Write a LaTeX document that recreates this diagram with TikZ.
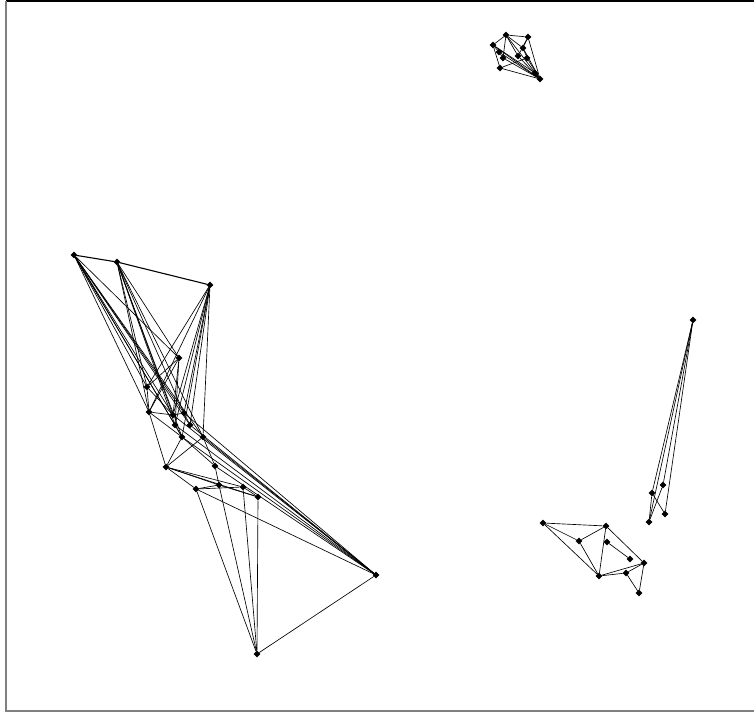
\documentclass[tikz,border=0pt]{standalone}
\usetikzlibrary{shapes.geometric}
\begin{document}
\begin{tikzpicture}[x=1pt,y=-1pt,
  vtx/.style={diamond,fill=black,inner sep=0pt,minimum size=7pt},
  edge/.style={line width=0.65pt,black}]
\useasboundingbox (0,0) rectangle (754,713);
\draw[line width=1.2pt,black] (6,1) -- (754,1);
\draw[line width=1.6pt,gray] (6,1) -- (6,711) -- (754,711);
\foreach \n/\x/\y in {l1/74/255,l2/117/262,l3/210/285,l4/179/358,l5/147/387,l6/149/412,
  l7/173/415,l8/184/413,l9/175/425,l10/182/437,l11/203/437,l12/190/425,l13/215/466,
  l14/166/467,l15/196/489,l16/219/485,l17/243/487,l18/258/497,l19/376/575,l20/257/654,
  t1/506/35,t2/528/37,t3/493/45,t4/499/52,t5/503/58,t6/523/48,t7/518/56,t8/527/58,
  t9/500/68,t10/540/79,t11/535/73,
  r1/543/523,r2/606/526,r3/579/541,r4/607/542,r5/630/559,r6/644/563,r7/626/573,r8/599/576,r9/639/593,
  q1/693/320,q2/663/485,q3/652/493,q4/665/514,q5/649/522}
  \node[vtx] (\n) at (\x,\y) {};
\draw[line width=1.1pt] (l1) -- (l2) -- (l3);
\foreach \a/\b in {l1/l4,l1/l5,l1/l6,l1/l7,l1/l8,l1/l9,l1/l10,l1/l11,l1/l12,
  l2/l4,l2/l5,l2/l6,l2/l7,l2/l8,l2/l9,l2/l10,l2/l11,
  l3/l5,l3/l6,l3/l7,l3/l8,l3/l9,l3/l10,l3/l11,l3/l12,
  l4/l5,l4/l6,l4/l7,l4/l9,l5/l6,l5/l7,l6/l7,l6/l14,l6/l10,l7/l8,l8/l12,l9/l10,
  l14/l10,l14/l11,l14/l15,l14/l16,l14/l17,l14/l18,
  l7/l19,l8/l19,l9/l19,l10/l19,l11/l19,l12/l19,l13/l19,l10/l13,l11/l13,l13/l16,
  l15/l16,l15/l17,l16/l18,l17/l18,l15/l19,
  l15/l20,l16/l20,l17/l20,l18/l20,l19/l20,
  t1/t2,t1/t3,t2/t10,t1/t10,t3/t10,t4/t10,t5/t10,t9/t10,t6/t10,t7/t10,t8/t10,
  t1/t7,t2/t7,t1/t5,t9/t8,t3/t9,t6/t8,t1/t6,t2/t6,t3/t11,t3/t4,t4/t5,
  r1/r2,r1/r3,r1/r8,r3/r2,r3/r8,r2/r8,r2/r6,r4/r5,r8/r7,r7/r6,r8/r6,r7/r9,r6/r9,
  q1/q2,q1/q3,q1/q4,q1/q5,q3/q4,q3/q5,q2/q5}
  \draw[edge] (\a) -- (\b);
\end{tikzpicture}
\end{document}
